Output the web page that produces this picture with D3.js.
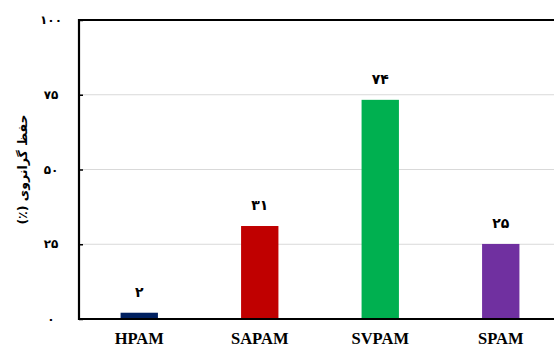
<!DOCTYPE html>
<html><head><meta charset="utf-8">
<script src="https://cdn.jsdelivr.net/npm/d3@7"></script>
<style>body{margin:0;background:#fff}svg{display:block}</style>
</head><body>
<svg id="c" width="554" height="347"></svg>
<script>
const categories = ["HPAM", "SAPAM", "SVPAM", "SPAM"];
const values = [2.1, 31.1, 73.3, 25.1];
const valueLabels = ["۲", "۳۱", "۷۴", "۲۵"];
const colors = ["#002060", "#C00000", "#00B050", "#7030A0"];
const yTicks = [0, 25, 50, 75, 100];
const yTickLabels = ["۰", "۲۵", "۵۰", "۷۵", "۱۰۰"];
const yTitle = "حفظ گرانروی (٪)";

const svg = d3.select("#c");
const m = {l: 79, t: 20, r: 561, b: 319};
const x = d3.scaleBand().domain(categories).range([m.l, m.r]).paddingInner(0.69).paddingOuter(0.345);
const y = d3.scaleLinear().domain([0, 100]).range([m.b, m.t]);

// gridlines
svg.append("g").selectAll("line").data(yTicks.filter(d => d > 0 && d < 100)).join("line")
  .attr("x1", m.l).attr("x2", 554).attr("y1", d => y(d)).attr("y2", d => y(d))
  .attr("stroke", "#d9d9d9").attr("stroke-width", 1);

// bars
svg.append("g").selectAll("rect").data(categories).join("rect")
  .attr("x", d => x(d)).attr("width", x.bandwidth())
  .attr("y", (d, i) => y(values[i])).attr("height", (d, i) => y(0) - y(values[i]))
  .attr("fill", (d, i) => colors[i]);

// value labels
svg.append("g").selectAll("text").data(categories).join("text")
  .attr("x", d => x(d) + x.bandwidth() / 2).attr("y", (d, i) => y(values[i]) - 16)
  .attr("text-anchor", "middle").attr("font-family", "DejaVu Sans").attr("font-weight", "bold")
  .attr("font-size", 14).attr("fill", "#000").text((d, i) => valueLabels[i]);

// left axis with inward ticks
const yAxis = d3.axisRight(y).tickValues(yTicks).tickSize(4).tickFormat("");
const ga = svg.append("g").attr("transform", `translate(${m.l},0)`).call(yAxis);
ga.select(".domain").remove();
ga.selectAll("line").attr("stroke", "#000").attr("stroke-width", 1.5);

svg.append("g").selectAll("text").data(yTicks).join("text")
  .attr("x", 51).attr("y", d => y(d) + 4).attr("text-anchor", "middle")
  .attr("font-family", "DejaVu Sans").attr("font-weight", "bold").attr("font-size", 12)
  .attr("fill", "#000").text((d, i) => yTickLabels[i]);

// frame lines
svg.append("line").attr("x1", m.l).attr("x2", m.l).attr("y1", m.t - 1).attr("y2", m.b + 1)
  .attr("stroke", "#000").attr("stroke-width", 2.2);
svg.append("line").attr("x1", m.l - 1).attr("x2", 554).attr("y1", m.t).attr("y2", m.t)
  .attr("stroke", "#000").attr("stroke-width", 2.2);
svg.append("line").attr("x1", m.l - 1).attr("x2", 554).attr("y1", m.b).attr("y2", m.b)
  .attr("stroke", "#000").attr("stroke-width", 2.2);

// category labels
const xAxis = d3.axisBottom(x).tickSize(0).tickPadding(0);
const gx = svg.append("g").attr("transform", `translate(0,${m.b})`).call(xAxis);
gx.select(".domain").remove();
gx.selectAll("text").attr("y", 25).attr("dy", 0)
  .attr("font-family", "Liberation Serif").attr("font-weight", "bold").attr("font-size", 16.5)
  .attr("fill", "#000");

// y title
svg.append("text").attr("transform", `translate(27,${(m.t + m.b) / 2}) rotate(-90)`)
  .attr("text-anchor", "middle").attr("font-family", "DejaVu Sans").attr("font-weight", "bold")
  .attr("font-size", 12.5).attr("fill", "#000").attr("direction", "rtl").text(yTitle);
</script>
</body></html>
